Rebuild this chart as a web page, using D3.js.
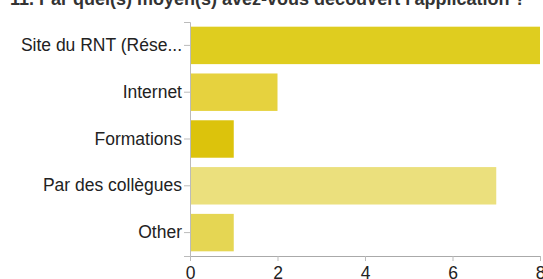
<!DOCTYPE html>
<html>
<head>
<meta charset="utf-8">
<script src="https://cdn.jsdelivr.net/npm/d3@7"></script>
<style>
html,body{margin:0;padding:0;background:#fff;overflow:hidden;}
svg{display:block;font-family:"Liberation Sans",Arial,Helvetica,sans-serif;}
</style>
</head>
<body>
<svg id="c" width="543" height="279"></svg>
<script>
const title = "11. Par quel(s) moyen(s) avez-vous découvert l'application ?";
const categories = ["Site du RNT (Rése...", "Internet", "Formations", "Par des collègues", "Other"];
const values = [8, 2, 1, 7, 1];
const barColors = ["#dfcd1f", "#e6d23e", "#dcc30c", "#ebe07d", "#e5d653"];
const tickValues = [0, 2, 4, 6, 8];

const svg = d3.select("#c");
const margin = {left: 190, right: 3, top: 22, bottom: 23};
const W = 543, H = 279;

const x = d3.scaleLinear().domain([0, 8]).range([margin.left, W - margin.right]);
const y = d3.scaleBand().domain(categories).range([margin.top, H - margin.bottom]).paddingInner(0.2).paddingOuter(0.1);

svg.append("text")
  .attr("x", 10).attr("y", 5)
  .attr("font-size", 18).attr("font-weight", "bold").attr("fill", "#333")
  .text(title);

svg.append("g").selectAll("rect").data(categories).join("rect")
  .attr("x", x(0))
  .attr("y", d => y(d))
  .attr("height", y.bandwidth())
  .attr("width", (d, i) => x(values[i]) - x(0))
  .attr("fill", (d, i) => barColors[i]);

const yAxis = svg.append("g").attr("transform", `translate(${x(0)},0)`)
  .call(d3.axisLeft(y).tickSize(6).tickPadding(2));
yAxis.select(".domain").attr("stroke", "#bbb");
yAxis.selectAll(".tick line").attr("stroke", "#bbb");
yAxis.selectAll(".tick text").attr("font-size", 17.5).attr("fill", "#222").attr("font-family", "Liberation Sans, Arial, sans-serif");

const xAxis = svg.append("g").attr("transform", `translate(0,${H - margin.bottom})`)
  .call(d3.axisBottom(x).tickValues(tickValues).tickSize(5).tickPadding(6).tickSizeOuter(0));
xAxis.select(".domain").attr("stroke", "#aaa");
xAxis.selectAll(".tick line").attr("stroke", "#bbb");
xAxis.selectAll(".tick text").attr("font-size", 17.5).attr("fill", "#222").attr("font-family", "Liberation Sans, Arial, sans-serif");
</script>
</body>
</html>
